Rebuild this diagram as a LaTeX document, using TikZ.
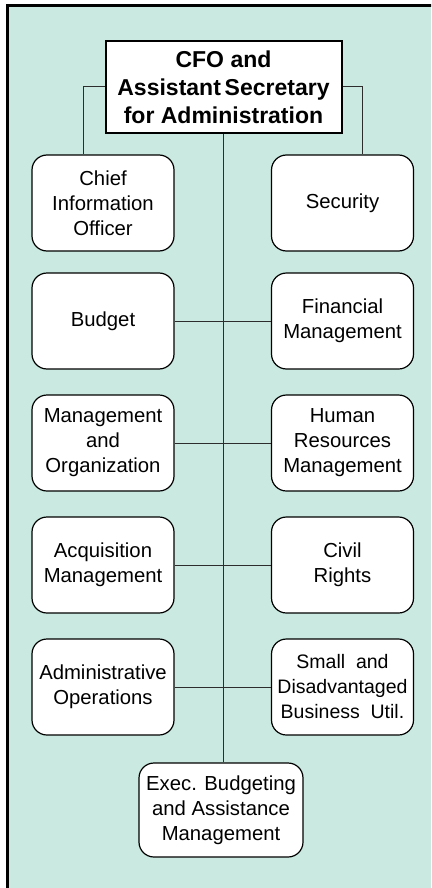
\documentclass[tikz,border=0pt]{standalone}
\usepackage{fontspec}
\setmainfont{Liberation Sans}
\definecolor{bgteal}{RGB}{201,233,225}
\definecolor{linegray}{RGB}{45,45,45}
\begin{document}
\begin{tikzpicture}[x=1pt,y=-1pt,
  unit/.style={draw=black, line width=1.2pt, fill=white, rounded corners=15pt,
    minimum width=142pt, minimum height=96pt, inner sep=2pt, align=center,
    font=\fontsize{20.3}{25}\selectfont},
  headbox/.style={draw=black, line width=2pt, fill=white, minimum width=236pt,
    minimum height=92pt, inner sep=2pt, align=center,
    font=\fontsize{23}{28}\selectfont\bfseries},
  link/.style={draw=linegray, line width=1pt}]
\useasboundingbox (0,0) rectangle (431,888);
\clip (0,0) rectangle (431,888);
\fill[white] (0,0) rectangle (431,888);
\draw[fill=bgteal, line width=3.2pt] (7.5,5.5) rectangle (450,910);

\node[headbox] (top) at (223.5,87) {CFO and\\Assistant\,Secretary\\for Administration};

\node[unit] (cio) at (103,203) {Chief\\Information\\Officer};
\node[unit] (sec) at (342.5,203) {Security};
\node[unit] (bud) at (103,321) {Budget};
\node[unit] (fin) at (342.5,321) {Financial\\Management};
\node[unit] (mo) at (103,443) {Management\\and\\Organization};
\node[unit] (hr) at (342.5,443) {Human\\Resources\\Management};
\node[unit] (acq) at (103,565) {Acquisition\\Management};
\node[unit] (cr) at (342.5,565) {Civil\\Rights};
\node[unit] (adm) at (103,687) {Administrative\\Operations};
\node[unit, font=\fontsize{19.5}{25}\selectfont] (sdb) at (342.5,687) {Small\ \ and\\Disadvantaged\\Business\ \ Util.};
\node[unit, minimum width=164pt, minimum height=94pt] (exe) at (221,810) {Exec. Budgeting\\and Assistance\\Management};

\path[link] (top.west) -| ([xshift=-20pt]cio.north);
\path[link] (top.east) -| ([xshift=19.5pt]sec.north);
\path[link] (top.south) -- (top.south |- exe.north);
\path[link] (bud.east) -- (fin.west);
\path[link] (mo.east) -- (hr.west);
\path[link] (acq.east) -- (cr.west);
\path[link] (adm.east) -- (sdb.west);
\end{tikzpicture}
\end{document}
